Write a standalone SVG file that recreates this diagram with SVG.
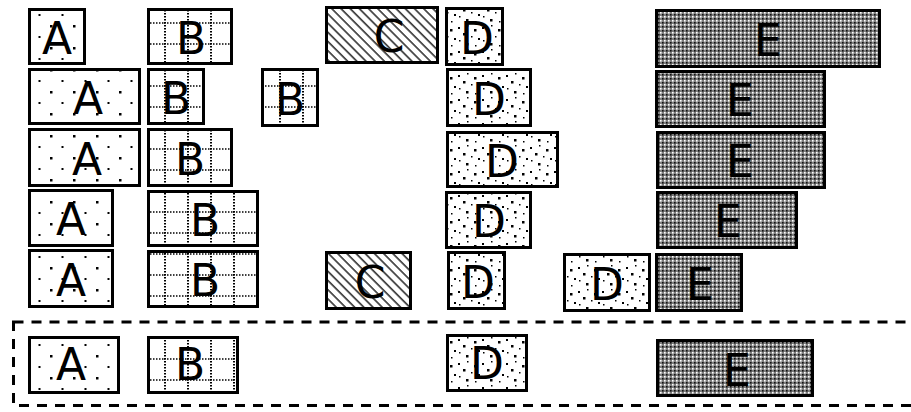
<svg xmlns="http://www.w3.org/2000/svg" width="911" height="412" viewBox="0 0 911 412">
<defs>
<pattern id="pA" patternUnits="userSpaceOnUse" width="23" height="22" x="4" y="3">
<rect x="0" y="0" width="2.5" height="2.5" fill="#000"/>
<rect x="11.5" y="11" width="2" height="2" fill="#000"/>
</pattern>
<pattern id="pB" patternUnits="userSpaceOnUse" width="23" height="21" x="3" y="1">
<line x1="0" y1="1" x2="23" y2="1" stroke="#000" stroke-width="1.5" stroke-dasharray="1.5 1.5"/>
<line x1="1" y1="0" x2="1" y2="21" stroke="#000" stroke-width="2" stroke-dasharray="1.5 1.5"/>
</pattern>
<pattern id="pC" patternUnits="userSpaceOnUse" width="6.5" height="10" patternTransform="rotate(-45)">
<line x1="1" y1="0" x2="1" y2="10" stroke="#000" stroke-width="1.3"/>
</pattern>
<pattern id="pD" patternUnits="userSpaceOnUse" width="24" height="24">
<rect x="2" y="3" width="2" height="2" fill="#000"/>
<rect x="11" y="1" width="1.5" height="1.5" fill="#000"/>
<rect x="18" y="5" width="2.5" height="2.5" fill="#000"/>
<rect x="7" y="9" width="2.5" height="2.5" fill="#000"/>
<rect x="15" y="12" width="1.5" height="1.5" fill="#000"/>
<rect x="22" y="14" width="2" height="2" fill="#000"/>
<rect x="3" y="16" width="1.5" height="1.5" fill="#000"/>
<rect x="10" y="19" width="2.5" height="2.5" fill="#000"/>
<rect x="19" y="21" width="1.5" height="1.5" fill="#000"/>
</pattern>
<pattern id="pE" patternUnits="userSpaceOnUse" width="4" height="4">
<rect width="4" height="4" fill="#7e7e7e"/>
<rect x="0" y="0" width="1.6" height="1.6" fill="#fff"/>
<rect x="2" y="2" width="1.6" height="1.6" fill="#111"/>
</pattern>
</defs>
<style>
.bg{fill:#fff;}
.box{stroke:#000;stroke-width:3;}
.a{fill:url(#pA);}
.b{fill:url(#pB);}
.c{fill:url(#pC);}
.d{fill:url(#pD);}
.e{fill:url(#pE);}
.lbl{font-family:"DejaVu Sans","Liberation Sans",sans-serif;font-size:44px;text-anchor:middle;fill:#000;}
.dash{fill:none;stroke:#000;stroke-width:3;stroke-dasharray:10 8;}
</style>

<g id="container">
<rect class="dash" x="13.5" y="322" width="920" height="83.5"/>
</g>
<g id="connectors"></g>

<!-- Row 1 -->
<g id="A1"><rect class="bg" x="29.5" y="9.5" width="55" height="54"/><text class="lbl" x="57" y="53.5">A</text><rect class="box a" x="29.5" y="9.5" width="55" height="54"/></g>
<g id="B1"><rect class="bg" x="148.5" y="9.5" width="83" height="54"/><text class="lbl" x="191" y="53.5">B</text><rect class="box b" x="148.5" y="9.5" width="83" height="54"/></g>
<g id="C1"><rect class="bg" x="326.5" y="7.5" width="111" height="55"/><text class="lbl" x="389" y="52">C</text><rect class="box c" x="326.5" y="7.5" width="111" height="55"/></g>
<g id="D1"><rect class="bg" x="446.5" y="8.5" width="56" height="56"/><text class="lbl" x="477" y="53.5">D</text><rect class="box d" x="446.5" y="8.5" width="56" height="56"/></g>
<g id="E1"><rect class="box e" x="656.5" y="10.5" width="223" height="56"/><text class="lbl" x="768" y="55.5">E</text></g>

<!-- Row 2 -->
<g id="A2"><rect class="bg" x="29.5" y="69.5" width="110" height="54"/><text class="lbl" x="88" y="113.5">A</text><rect class="box a" x="29.5" y="69.5" width="110" height="54"/></g>
<g id="B2"><rect class="bg" x="148.5" y="69.5" width="55" height="54"/><text class="lbl" x="176" y="113.5">B</text><rect class="box b" x="148.5" y="69.5" width="55" height="54"/></g>
<g id="B2b"><rect class="bg" x="262.5" y="69.5" width="55" height="56"/><text class="lbl" x="290" y="114.5">B</text><rect class="box b" x="262.5" y="69.5" width="55" height="56"/></g>
<g id="D2"><rect class="bg" x="447.5" y="69.5" width="83" height="56"/><text class="lbl" x="489" y="114.5">D</text><rect class="box d" x="447.5" y="69.5" width="83" height="56"/></g>
<g id="E2"><rect class="box e" x="656.5" y="71.5" width="168" height="55"/><text class="lbl" x="740" y="116">E</text></g>

<!-- Row 3 -->
<g id="A3"><rect class="bg" x="29.5" y="129.5" width="110" height="56"/><text class="lbl" x="87" y="174.5">A</text><rect class="box a" x="29.5" y="129.5" width="110" height="56"/></g>
<g id="B3"><rect class="bg" x="148.5" y="129.5" width="83" height="56"/><text class="lbl" x="190" y="174.5">B</text><rect class="box b" x="148.5" y="129.5" width="83" height="56"/></g>
<g id="D3"><rect class="bg" x="447.5" y="132.5" width="110" height="54"/><text class="lbl" x="502" y="176.5">D</text><rect class="box d" x="447.5" y="132.5" width="110" height="54"/></g>
<g id="E3"><rect class="box e" x="657.5" y="132.5" width="167" height="55"/><text class="lbl" x="740" y="177">E</text></g>

<!-- Row 4 -->
<g id="A4"><rect class="bg" x="29.5" y="190.5" width="83" height="55"/><text class="lbl" x="71" y="235">A</text><rect class="box a" x="29.5" y="190.5" width="83" height="55"/></g>
<g id="B4"><rect class="bg" x="148.5" y="191.5" width="109" height="54"/><text class="lbl" x="205" y="235.5">B</text><rect class="box b" x="148.5" y="191.5" width="109" height="54"/></g>
<g id="D4"><rect class="bg" x="446.5" y="192.5" width="84" height="55"/><text class="lbl" x="489" y="237">D</text><rect class="box d" x="446.5" y="192.5" width="84" height="55"/></g>
<g id="E4"><rect class="box e" x="657.5" y="192.5" width="139" height="55"/><text class="lbl" x="728" y="237">E</text></g>

<!-- Row 5 -->
<g id="A5"><rect class="bg" x="29.5" y="250.5" width="83" height="56"/><text class="lbl" x="71" y="295.5">A</text><rect class="box a" x="29.5" y="250.5" width="83" height="56"/></g>
<g id="B5"><rect class="bg" x="148.5" y="251.5" width="109" height="55"/><text class="lbl" x="205" y="296">B</text><rect class="box b" x="148.5" y="251.5" width="109" height="55"/></g>
<g id="C5"><rect class="bg" x="326.5" y="252.5" width="84" height="56"/><text class="lbl" x="370" y="297.5">C</text><rect class="box c" x="326.5" y="252.5" width="84" height="56"/></g>
<g id="D5"><rect class="bg" x="448.5" y="252.5" width="56" height="56"/><text class="lbl" x="478" y="297.5">D</text><rect class="box d" x="448.5" y="252.5" width="56" height="56"/></g>
<g id="D5b"><rect class="bg" x="564.5" y="254.5" width="85" height="56"/><text class="lbl" x="607" y="299.5">D</text><rect class="box d" x="564.5" y="254.5" width="85" height="56"/></g>
<g id="E5"><rect class="box e" x="656.5" y="254.5" width="85" height="56"/><text class="lbl" x="700" y="299.5">E</text></g>

<!-- Row 6 (inside dashed container) -->
<g id="A6"><rect class="bg" x="29.5" y="337.5" width="89" height="55"/><text class="lbl" x="71" y="380">A</text><rect class="box a" x="29.5" y="337.5" width="89" height="55"/></g>
<g id="B6"><rect class="bg" x="148.5" y="337.5" width="89" height="55"/><text class="lbl" x="190" y="380">B</text><rect class="box b" x="148.5" y="337.5" width="89" height="55"/></g>
<g id="D6"><rect class="bg" x="447.5" y="335.5" width="79" height="55"/><text class="lbl" x="487" y="379">D</text><rect class="box d" x="447.5" y="335.5" width="79" height="55"/></g>
<g id="E6"><rect class="box e" x="657.5" y="340.5" width="155" height="55"/><text class="lbl" x="737" y="385.5">E</text></g>
</svg>
